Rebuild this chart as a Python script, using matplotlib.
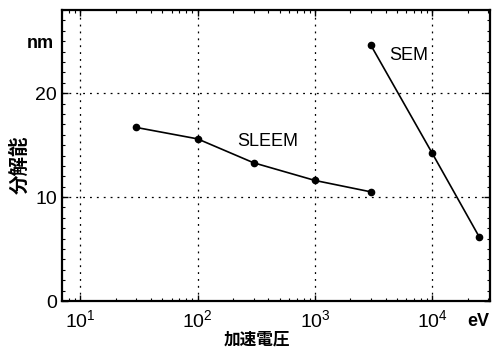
import matplotlib
matplotlib.use("Agg")
import matplotlib.pyplot as plt
from matplotlib.ticker import MultipleLocator, LogLocator, NullFormatter

plt.rcParams['font.family'] = ['Liberation Sans', 'Noto Sans CJK JP', 'DejaVu Sans']

# datos
sleem_ev = [30, 100, 300, 1000, 3000]
sleem_nm = [16.7, 15.6, 13.3, 11.6, 10.5]
sem_ev = [3000, 10000, 25000]
sem_nm = [24.6, 14.2, 6.2]

fig = plt.figure(figsize=(4.92, 3.52), dpi=100)
ax = fig.add_axes([62/492, 1 - 301/352, 428/492, 291/352])

ax.plot(sleem_ev, sleem_nm, color="black", lw=1.2, marker="o", ms=4.5)
ax.plot(sem_ev, sem_nm, color="black", lw=1.2, marker="o", ms=4.5)

ax.set_xscale("log")
ax.set_xlim(7.0, 31000)
ax.set_ylim(0, 28)
ax.set_yticks([0, 10, 20])
ax.yaxis.set_minor_locator(MultipleLocator(1))
ax.xaxis.set_minor_locator(LogLocator(base=10, subs=range(2, 10)))
ax.xaxis.set_minor_formatter(NullFormatter())
ax.set_xticks([10, 100, 1000, 10000])

ax.grid(True, which="major", linestyle=(0, (1.5, 4)), color="black", lw=0.9)
ax.tick_params(which="both", direction="in", top=True, right=True, labelsize=14)
ax.tick_params(which="major", length=4, width=1)
ax.tick_params(which="minor", length=2.5, width=0.8)
ax.tick_params(axis="x", pad=6)
for s in ax.spines.values():
    s.set_linewidth(1.6)

fig.text(268/492, 1 - 142/352, "SLEEM", fontsize=13, ha="center", va="center")
fig.text(409/492, 1 - 55/352, "SEM", fontsize=13, ha="center", va="center")

fig.text(54/492, 1 - 43/352, "nm", fontsize=13, fontweight="bold", ha="right", va="center")
fig.text(478/492, 1 - 322/352, "eV", fontsize=13, fontweight="bold", ha="center", va="center")
fig.text(257/492, 1 - 340/352, "加速電圧", fontsize=12, fontweight="bold",
         family=['Noto Sans CJK JP', 'DejaVu Sans'], ha="center", va="center")
fig.text(20/492, 1 - 165/352, "分解能", fontsize=14, fontweight="bold", rotation=90,
         family=['Noto Sans CJK JP', 'DejaVu Sans'], ha="center", va="center")

fig.savefig("out.png", dpi=100)
